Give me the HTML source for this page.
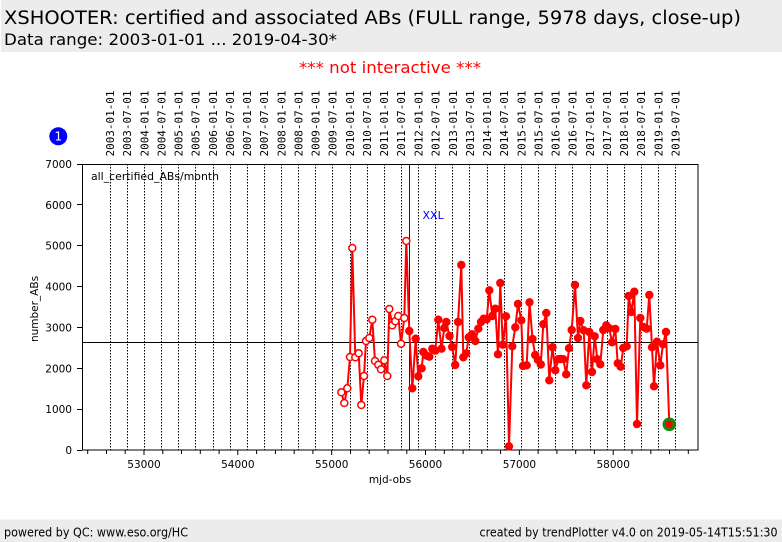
<!DOCTYPE html>
<html><head><meta charset="utf-8"><style>
html,body{margin:0;padding:0;background:#fff;}
svg{display:block;font-family:"DejaVu Sans","Liberation Sans",sans-serif;}
</style></head><body>
<svg width="782" height="542" viewBox="0 0 782 542" xmlns="http://www.w3.org/2000/svg">
<rect x="1" y="0" width="781" height="52" fill="#ececec"/>
<text x="4" y="24" font-size="18.5" fill="#000" textLength="737" lengthAdjust="spacingAndGlyphs">XSHOOTER: certified and associated ABs (FULL range, 5978 days, close-up)</text>
<text x="4" y="45" font-size="16" fill="#000" textLength="333" lengthAdjust="spacingAndGlyphs">Data range: 2003-01-01 ... 2019-04-30*</text>
<text x="299" y="73" font-size="16" fill="#ff0000" textLength="182" lengthAdjust="spacingAndGlyphs">*** not interactive ***</text>
<rect x="0" y="519.5" width="782" height="22.5" fill="#ececec"/>
<text x="4" y="536.5" font-size="12.5" fill="#000" textLength="184" lengthAdjust="spacingAndGlyphs">powered by QC: www.eso.org/HC</text>
<text x="479.5" y="536.5" font-size="12.5" fill="#000" textLength="298" lengthAdjust="spacingAndGlyphs">created by trendPlotter v4.0 on 2019-05-14T15:51:30</text>
<circle cx="58.3" cy="136.3" r="9" fill="#0000ff"/>
<text x="58.3" y="140.5" font-size="12" fill="#fff" text-anchor="middle">1</text>
<g font-family="DejaVu Sans Mono,Liberation Mono,monospace" font-size="10.8" fill="#000">
<text transform="translate(114,156.5) rotate(-90)" textLength="66" lengthAdjust="spacingAndGlyphs">2003-01-01</text>
<text transform="translate(131,156.5) rotate(-90)" textLength="66" lengthAdjust="spacingAndGlyphs">2003-07-01</text>
<text transform="translate(148.3,156.5) rotate(-90)" textLength="66" lengthAdjust="spacingAndGlyphs">2004-01-01</text>
<text transform="translate(165.3,156.5) rotate(-90)" textLength="66" lengthAdjust="spacingAndGlyphs">2004-07-01</text>
<text transform="translate(182.6,156.5) rotate(-90)" textLength="66" lengthAdjust="spacingAndGlyphs">2005-01-01</text>
<text transform="translate(199.6,156.5) rotate(-90)" textLength="66" lengthAdjust="spacingAndGlyphs">2005-07-01</text>
<text transform="translate(216.9,156.5) rotate(-90)" textLength="66" lengthAdjust="spacingAndGlyphs">2006-01-01</text>
<text transform="translate(233.9,156.5) rotate(-90)" textLength="66" lengthAdjust="spacingAndGlyphs">2006-07-01</text>
<text transform="translate(251.1,156.5) rotate(-90)" textLength="66" lengthAdjust="spacingAndGlyphs">2007-01-01</text>
<text transform="translate(268.1,156.5) rotate(-90)" textLength="66" lengthAdjust="spacingAndGlyphs">2007-07-01</text>
<text transform="translate(285.4,156.5) rotate(-90)" textLength="66" lengthAdjust="spacingAndGlyphs">2008-01-01</text>
<text transform="translate(302.5,156.5) rotate(-90)" textLength="66" lengthAdjust="spacingAndGlyphs">2008-07-01</text>
<text transform="translate(319.7,156.5) rotate(-90)" textLength="66" lengthAdjust="spacingAndGlyphs">2009-01-01</text>
<text transform="translate(336.7,156.5) rotate(-90)" textLength="66" lengthAdjust="spacingAndGlyphs">2009-07-01</text>
<text transform="translate(354,156.5) rotate(-90)" textLength="66" lengthAdjust="spacingAndGlyphs">2010-01-01</text>
<text transform="translate(371,156.5) rotate(-90)" textLength="66" lengthAdjust="spacingAndGlyphs">2010-07-01</text>
<text transform="translate(388.2,156.5) rotate(-90)" textLength="66" lengthAdjust="spacingAndGlyphs">2011-01-01</text>
<text transform="translate(405.2,156.5) rotate(-90)" textLength="66" lengthAdjust="spacingAndGlyphs">2011-07-01</text>
<text transform="translate(422.5,156.5) rotate(-90)" textLength="66" lengthAdjust="spacingAndGlyphs">2012-01-01</text>
<text transform="translate(439.6,156.5) rotate(-90)" textLength="66" lengthAdjust="spacingAndGlyphs">2012-07-01</text>
<text transform="translate(456.8,156.5) rotate(-90)" textLength="66" lengthAdjust="spacingAndGlyphs">2013-01-01</text>
<text transform="translate(473.8,156.5) rotate(-90)" textLength="66" lengthAdjust="spacingAndGlyphs">2013-07-01</text>
<text transform="translate(491.1,156.5) rotate(-90)" textLength="66" lengthAdjust="spacingAndGlyphs">2014-01-01</text>
<text transform="translate(508.1,156.5) rotate(-90)" textLength="66" lengthAdjust="spacingAndGlyphs">2014-07-01</text>
<text transform="translate(525.4,156.5) rotate(-90)" textLength="66" lengthAdjust="spacingAndGlyphs">2015-01-01</text>
<text transform="translate(542.3,156.5) rotate(-90)" textLength="66" lengthAdjust="spacingAndGlyphs">2015-07-01</text>
<text transform="translate(559.6,156.5) rotate(-90)" textLength="66" lengthAdjust="spacingAndGlyphs">2016-01-01</text>
<text transform="translate(576.7,156.5) rotate(-90)" textLength="66" lengthAdjust="spacingAndGlyphs">2016-07-01</text>
<text transform="translate(594,156.5) rotate(-90)" textLength="66" lengthAdjust="spacingAndGlyphs">2017-01-01</text>
<text transform="translate(610.9,156.5) rotate(-90)" textLength="66" lengthAdjust="spacingAndGlyphs">2017-07-01</text>
<text transform="translate(628.2,156.5) rotate(-90)" textLength="66" lengthAdjust="spacingAndGlyphs">2018-01-01</text>
<text transform="translate(645.2,156.5) rotate(-90)" textLength="66" lengthAdjust="spacingAndGlyphs">2018-07-01</text>
<text transform="translate(662.5,156.5) rotate(-90)" textLength="66" lengthAdjust="spacingAndGlyphs">2019-01-01</text>
<text transform="translate(679.5,156.5) rotate(-90)" textLength="66" lengthAdjust="spacingAndGlyphs">2019-07-01</text>
</g>
<g stroke="#000" stroke-width="1" stroke-dasharray="1.5,1.5" fill="none">
<path d="M110.5 164V450M127.5 164V450M144.5 164V450M161.5 164V450M178.5 164V450M195.5 164V450M213.5 164V450M230.5 164V450M247.5 164V450M264.5 164V450M281.5 164V450M298.5 164V450M315.5 164V450M332.5 164V450M350.5 164V450M367.5 164V450M384.5 164V450M401.5 164V450M418.5 164V450M435.5 164V450M452.5 164V450M469.5 164V450M487.5 164V450M504.5 164V450M521.5 164V450M538.5 164V450M555.5 164V450M572.5 164V450M590.5 164V450M607.5 164V450M624.5 164V450M641.5 164V450M658.5 164V450M675.5 164V450"/>
</g>
<line x1="409.5" y1="164" x2="409.5" y2="450" stroke="#0000ff" stroke-width="1"/>
<text x="422.5" y="219" font-size="11" fill="#0000ff">XXL</text>
<line x1="82" y1="342.5" x2="698" y2="342.5" stroke="#000" stroke-width="1"/>
<rect x="82.5" y="164.5" width="615.5" height="285.5" fill="none" stroke="#000" stroke-width="1"/>
<g stroke="#000" stroke-width="1">
<path d="M77 450.5H82M77 409.5H82M77 368.5H82M77 327.5H82M77 286.5H82M77 245.5H82M77 204.5H82M77 164.5H82"/>
<path d="M87.7 450V454M106.5 450V454M125.2 450V454M144 450V455M162.8 450V454M181.5 450V454M200.3 450V454M219.1 450V454M237.8 450V455M256.6 450V454M275.4 450V454M294.2 450V454M312.9 450V454M331.7 450V455M350.5 450V454M369.2 450V454M388 450V454M406.8 450V454M425.5 450V455M444.3 450V454M463.1 450V454M481.8 450V454M500.6 450V454M519.4 450V455M538.1 450V454M556.9 450V454M575.7 450V454M594.4 450V454M613.2 450V455M632 450V454M650.8 450V454M669.5 450V454M688.3 450V454"/>
</g>
<g font-size="10.5" fill="#000" text-anchor="end">
<text x="72" y="454">0</text>
<text x="72" y="413">1000</text>
<text x="72" y="372.3">2000</text>
<text x="72" y="331.4">3000</text>
<text x="72" y="290.6">4000</text>
<text x="72" y="249.7">5000</text>
<text x="72" y="208.9">6000</text>
<text x="72" y="168">7000</text>
</g>
<g font-size="10.5" fill="#000" text-anchor="middle">
<text x="144" y="468">53000</text>
<text x="237.8" y="468">54000</text>
<text x="331.7" y="468">55000</text>
<text x="425.5" y="468">56000</text>
<text x="519.4" y="468">57000</text>
<text x="613.2" y="468">58000</text>
<text x="390" y="483">mjd-obs</text>
<text transform="translate(38,309) rotate(-90)">number_ABs</text>
</g>
<text x="91" y="180" font-size="10.8" fill="#000" textLength="128" lengthAdjust="spacingAndGlyphs">all_certified_ABs/month</text>
<polyline fill="none" stroke="#ff0000" stroke-width="2" stroke-linejoin="round" points="341.3,392.3 344.3,403 347.3,388.3 350,357 352.3,248 355.3,357.3 358.7,353.3 361.3,405 364,376 366,341 369.3,338 372.3,319.7 375,361 378.3,364.7 381,369.3 384.3,360.3 387.3,376 389.3,309 392.3,325.3 395.3,321.3 398.3,316 401,343.7 404.3,318 406.3,241 409.3,331 412.3,388.3 415.7,338.7 418.3,376.3 421.7,368.3 423.3,352 426.7,355.7 429.3,356.7 432.3,348.7 435.3,350.7 438.3,319.7 441.5,348.7 444.3,328 446.3,322 449.5,336 452.2,347 455.2,365 458,322 461.3,265 463.3,357.3 466.3,353.3 468.7,337.3 472,334.3 475.3,341 478.3,328.7 481,322 483.7,318.7 486.7,319.3 489.3,290.3 492.3,316 495.3,308.7 498,354.3 500.3,283 502.7,344.7 506,316.3 509,446.3 512.3,346.3 515.3,327.3 518,304 521.3,320.3 523,366 526.7,365.3 529.5,302.3 532.5,339 535.2,355 537.8,359.8 540.8,364.5 543.3,324.2 546.3,313 549.3,380.3 552.5,347.2 555.3,370.2 558.3,359.2 560.7,359 563.3,359.2 566.2,374.3 569,348.2 571.7,330 575,285 578,338 580.3,321 583.7,330.3 586.3,385.3 589.3,332 592,372 594.7,336.3 597.3,359.3 600.3,364.3 603.3,330 606.3,325.3 609.3,328.3 612,342.3 615.3,329 617.7,363.3 620.7,366.7 623.3,348 626.7,346.3 628.7,296 631.3,312 634.3,291.7 637,424 640.3,318 643.3,327 646.7,328.7 649.3,295 652,347.3 654,386.3 657,341.7 660.3,365.3 663,344.3 666,332 669.3,424.3"/>
<g fill="#fff" stroke="#ff0000" stroke-width="1.5">
<circle cx="341.3" cy="392.3" r="3.5"/><circle cx="344.3" cy="403" r="3.5"/><circle cx="347.3" cy="388.3" r="3.5"/><circle cx="350" cy="357" r="3.5"/><circle cx="352.3" cy="248" r="3.5"/><circle cx="355.3" cy="357.3" r="3.5"/><circle cx="358.7" cy="353.3" r="3.5"/><circle cx="361.3" cy="405" r="3.5"/><circle cx="364" cy="376" r="3.5"/><circle cx="366" cy="341" r="3.5"/><circle cx="369.3" cy="338" r="3.5"/><circle cx="372.3" cy="319.7" r="3.5"/><circle cx="375" cy="361" r="3.5"/><circle cx="378.3" cy="364.7" r="3.5"/><circle cx="381" cy="369.3" r="3.5"/><circle cx="384.3" cy="360.3" r="3.5"/><circle cx="387.3" cy="376" r="3.5"/><circle cx="389.3" cy="309" r="3.5"/><circle cx="392.3" cy="325.3" r="3.5"/><circle cx="395.3" cy="321.3" r="3.5"/><circle cx="398.3" cy="316" r="3.5"/><circle cx="401" cy="343.7" r="3.5"/><circle cx="404.3" cy="318" r="3.5"/><circle cx="406.3" cy="241" r="3.5"/>
</g>
<g fill="#ff0000">
<circle cx="409.3" cy="331" r="4.2"/><circle cx="412.3" cy="388.3" r="4.2"/><circle cx="415.7" cy="338.7" r="4.2"/><circle cx="418.3" cy="376.3" r="4.2"/><circle cx="421.7" cy="368.3" r="4.2"/><circle cx="423.3" cy="352" r="4.2"/><circle cx="426.7" cy="355.7" r="4.2"/><circle cx="429.3" cy="356.7" r="4.2"/><circle cx="432.3" cy="348.7" r="4.2"/><circle cx="435.3" cy="350.7" r="4.2"/><circle cx="438.3" cy="319.7" r="4.2"/><circle cx="441.5" cy="348.7" r="4.2"/><circle cx="444.3" cy="328" r="4.2"/><circle cx="446.3" cy="322" r="4.2"/><circle cx="449.5" cy="336" r="4.2"/><circle cx="452.2" cy="347" r="4.2"/><circle cx="455.2" cy="365" r="4.2"/><circle cx="458" cy="322" r="4.2"/><circle cx="461.3" cy="265" r="4.2"/><circle cx="463.3" cy="357.3" r="4.2"/><circle cx="466.3" cy="353.3" r="4.2"/><circle cx="468.7" cy="337.3" r="4.2"/><circle cx="472" cy="334.3" r="4.2"/><circle cx="475.3" cy="341" r="4.2"/><circle cx="478.3" cy="328.7" r="4.2"/><circle cx="481" cy="322" r="4.2"/><circle cx="483.7" cy="318.7" r="4.2"/><circle cx="486.7" cy="319.3" r="4.2"/><circle cx="489.3" cy="290.3" r="4.2"/><circle cx="492.3" cy="316" r="4.2"/><circle cx="495.3" cy="308.7" r="4.2"/><circle cx="498" cy="354.3" r="4.2"/><circle cx="500.3" cy="283" r="4.2"/><circle cx="502.7" cy="344.7" r="4.2"/><circle cx="506" cy="316.3" r="4.2"/><circle cx="509" cy="446.3" r="4.2"/><circle cx="512.3" cy="346.3" r="4.2"/><circle cx="515.3" cy="327.3" r="4.2"/><circle cx="518" cy="304" r="4.2"/><circle cx="521.3" cy="320.3" r="4.2"/><circle cx="523" cy="366" r="4.2"/><circle cx="526.7" cy="365.3" r="4.2"/><circle cx="529.5" cy="302.3" r="4.2"/><circle cx="532.5" cy="339" r="4.2"/><circle cx="535.2" cy="355" r="4.2"/><circle cx="537.8" cy="359.8" r="4.2"/><circle cx="540.8" cy="364.5" r="4.2"/><circle cx="543.3" cy="324.2" r="4.2"/><circle cx="546.3" cy="313" r="4.2"/><circle cx="549.3" cy="380.3" r="4.2"/><circle cx="552.5" cy="347.2" r="4.2"/><circle cx="555.3" cy="370.2" r="4.2"/><circle cx="558.3" cy="359.2" r="4.2"/><circle cx="560.7" cy="359" r="4.2"/><circle cx="563.3" cy="359.2" r="4.2"/><circle cx="566.2" cy="374.3" r="4.2"/><circle cx="569" cy="348.2" r="4.2"/><circle cx="571.7" cy="330" r="4.2"/><circle cx="575" cy="285" r="4.2"/><circle cx="578" cy="338" r="4.2"/><circle cx="580.3" cy="321" r="4.2"/><circle cx="583.7" cy="330.3" r="4.2"/><circle cx="586.3" cy="385.3" r="4.2"/><circle cx="589.3" cy="332" r="4.2"/><circle cx="592" cy="372" r="4.2"/><circle cx="594.7" cy="336.3" r="4.2"/><circle cx="597.3" cy="359.3" r="4.2"/><circle cx="600.3" cy="364.3" r="4.2"/><circle cx="603.3" cy="330" r="4.2"/><circle cx="606.3" cy="325.3" r="4.2"/><circle cx="609.3" cy="328.3" r="4.2"/><circle cx="612" cy="342.3" r="4.2"/><circle cx="615.3" cy="329" r="4.2"/><circle cx="617.7" cy="363.3" r="4.2"/><circle cx="620.7" cy="366.7" r="4.2"/><circle cx="623.3" cy="348" r="4.2"/><circle cx="626.7" cy="346.3" r="4.2"/><circle cx="628.7" cy="296" r="4.2"/><circle cx="631.3" cy="312" r="4.2"/><circle cx="634.3" cy="291.7" r="4.2"/><circle cx="637" cy="424" r="4.2"/><circle cx="640.3" cy="318" r="4.2"/><circle cx="643.3" cy="327" r="4.2"/><circle cx="646.7" cy="328.7" r="4.2"/><circle cx="649.3" cy="295" r="4.2"/><circle cx="652" cy="347.3" r="4.2"/><circle cx="654" cy="386.3" r="4.2"/><circle cx="657" cy="341.7" r="4.2"/><circle cx="660.3" cy="365.3" r="4.2"/><circle cx="663" cy="344.3" r="4.2"/><circle cx="666" cy="332" r="4.2"/>
</g>
<circle cx="669.3" cy="424.3" r="6.8" fill="#128a12"/>
<circle cx="669.3" cy="424.3" r="3.6" fill="#ff0000"/>
</svg>
</body></html>
